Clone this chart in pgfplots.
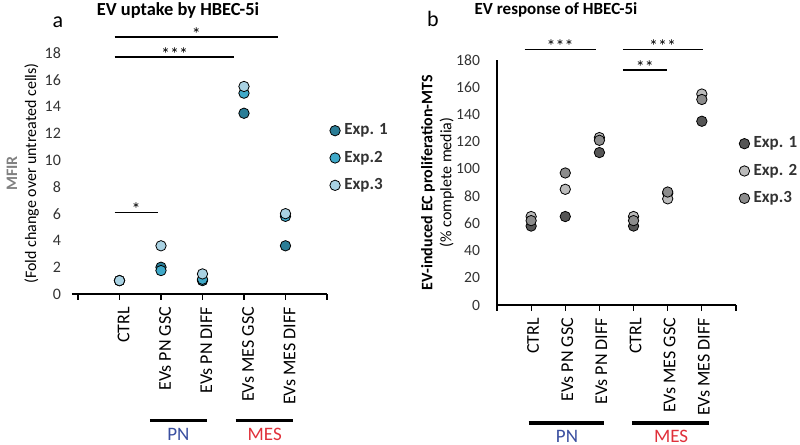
\documentclass[border=0pt]{standalone}
\usepackage{pgfplots}
\pgfplotsset{compat=1.18}
\usepackage{fontspec}
\setmainfont{Carlito}

\definecolor{aone}{HTML}{2B7D96}
\definecolor{atwo}{HTML}{3FA9C9}
\definecolor{athree}{HTML}{A9D2E3}
\definecolor{bone}{HTML}{555555}
\definecolor{btwo}{HTML}{BBBBBB}
\definecolor{bthree}{HTML}{8C8C8C}
\definecolor{txt}{HTML}{333333}
\definecolor{pnblue}{HTML}{3A4FA0}
\definecolor{mesred}{HTML}{E0303A}

\tikzset{stars/.style={anchor=base, inner sep=0pt, yshift=-1.6pt, font=\fontsize{9}{9}\selectfont}}

\pgfplotsset{
  panel/.style={
    scale only axis, anchor=south west,
    axis x line=bottom, axis y line=left,
    axis line style={-, black, line width=0.6pt},
    tick align=outside, major tick length=3pt,
    x tick style={black, line width=0.6pt},
    y tick style={draw=none},
    /pgf/number format/assume math mode=true,
    yticklabel style={font=\fontsize{8}{9}\selectfont, text=txt},
    xticklabel style={rotate=90, anchor=east, font=\fontsize{9}{10}\selectfont, text=black},
    clip=false,
    legend cell align=left,
    legend image code/.code={\draw[#1] plot coordinates {(2pt,0pt)};},
    every axis y label/.style={rotate=90, anchor=south, align=center, font=\fontsize{8}{9.5}\selectfont},
  },
  dots/.style={only marks, mark=*, mark size=2.6pt, draw=none, fill=#1, mark options={draw=none, fill=#1}},
}

\begin{document}
\begin{tikzpicture}
\useasboundingbox (0pt,0pt) rectangle (400pt,222.5pt);

% panel a
\begin{axis}[panel, at={(39pt,75.5pt)}, width=124.5pt, height=120.5pt,
  xmin=0, xmax=6, ymin=0, ymax=18,
  y axis line style={draw=none},
  ytick={0,2,...,18},
  xtick={0,...,6},
  xticklabels={{},CTRL,EVs PN GSC,EVs PN DIFF,EVs MES GSC,EVs MES DIFF,{}},
  yticklabel style={xshift=-2pt},
  xticklabel style={yshift=-2pt},
  ylabel={\textcolor{gray}{\bfseries MFIR}\\(Fold change over untreated cells)},
  ylabel style={at={([xshift=-16pt]axis description cs:0,0.5)}},
  legend style={at={(1.01,0.725)}, anchor=north west, draw=none, fill=none,
    font=\bfseries\fontsize{8.5}{10}\selectfont, text=txt, row sep=2.6pt, inner sep=0pt},
]
\addplot[dots=aone] coordinates {(1,1) (2,2.0) (3,1.0) (4,13.5) (5,3.6)};
\addplot[dots=atwo] coordinates {(1,1) (2,1.75) (3,1.1) (4,15.0) (5,5.8)};
\addplot[dots=athree] coordinates {(1,1) (2,3.6) (3,1.5) (4,15.5) (5,6.0)};
\legend{Exp. 1,Exp.2,Exp.3}
% significance
\draw[line width=0.6pt] (axis cs:0.88,19.2) -- (axis cs:4.83,19.2);
\node[stars] at (axis cs:2.85,19.2) {*};
\draw[line width=0.6pt] (axis cs:0.88,17.7) -- (axis cs:3.77,17.7);
\node[stars] at (axis cs:2.33,17.7) {***};
\draw[line width=0.6pt] (axis cs:0.88,6.1) -- (axis cs:1.92,6.1);
\node[stars] at (axis cs:1.4,6.1) {*};
\draw[line width=0.6pt] (axis cs:-0.15,0) -- (axis cs:0,0);
% groups
\draw[line width=1.6pt] (axis cs:1.73,-9.45) -- (axis cs:3.1,-9.45);
\draw[line width=1.6pt] (axis cs:3.8,-9.45) -- (axis cs:5.18,-9.45);
\node[font=\fontsize{9.5}{10}\selectfont, text=pnblue] at (axis cs:2.42,-10.5) {PN};
\node[font=\fontsize{9.5}{10}\selectfont, text=mesred] at (axis cs:4.5,-10.5) {MES};
\end{axis}

% panel b
\begin{axis}[panel, at={(248.5pt,70pt)}, width=119.5pt, height=122.5pt,
  xmin=0, xmax=7, ymin=0, ymax=180,
  ytick={0,20,...,180},
  xtick={0,...,7},
  xticklabels={{},CTRL,EVs PN GSC,EVs PN DIFF,CTRL,EVs MES GSC,EVs MES DIFF,{}},
  yticklabel style={xshift=-2pt, font=\fontsize{7.8}{9}\selectfont},
  xticklabel style={yshift=-1pt},
  ylabel={\bfseries EV-induced EC proliferation-MTS\\(\% complete media)},
  ylabel style={at={([xshift=-18pt]axis description cs:0,0.5)}},
  legend style={at={(1.012,0.705)}, anchor=north west, draw=none, fill=none,
    font=\bfseries\fontsize{8.5}{10}\selectfont, text=txt, row sep=2.6pt, inner sep=0pt},
]
\addplot[dots=bone] coordinates {(1,58) (2,65) (3,112) (4,58) (5,82) (6,135)};
\addplot[dots=btwo] coordinates {(1,65) (2,85) (3,123) (4,65) (5,78) (6,155)};
\addplot[dots=bthree] coordinates {(1,62) (2,97) (3,121) (4,62) (5,83) (6,151)};
\legend{Exp. 1,Exp. 2,Exp.3}
\draw[line width=0.6pt] (axis cs:0.81,188) -- (axis cs:2.9,188);
\node[stars] at (axis cs:1.85,188) {***};
\draw[line width=0.6pt] (axis cs:3.69,188) -- (axis cs:6.02,188);
\node[stars] at (axis cs:4.85,188) {***};
\draw[line width=0.6pt] (axis cs:3.69,172.7) -- (axis cs:4.97,172.7);
\node[stars] at (axis cs:4.33,172.7) {**};
\draw[line width=1.6pt] (axis cs:0.93,-86.7) -- (axis cs:3.13,-86.7);
\draw[line width=1.6pt] (axis cs:3.95,-86.7) -- (axis cs:6.2,-86.7);
\node[font=\fontsize{9.5}{10}\selectfont, text=pnblue] at (axis cs:2.05,-96.5) {PN};
\node[font=\fontsize{9.5}{10}\selectfont, text=mesred] at (axis cs:5.1,-96.5) {MES};
\end{axis}

\node[font=\bfseries\fontsize{9.2}{10}\selectfont] at (89pt,217.5pt) {EV uptake by HBEC-5i};
\node[font=\fontsize{11}{12}\selectfont] at (29pt,211.5pt) {a};
\node[font=\bfseries\fontsize{8.5}{10}\selectfont] at (278pt,217.5pt) {EV response of HBEC-5i};
\node[font=\fontsize{11}{12}\selectfont] at (216.5pt,213pt) {b};
\end{tikzpicture}
\end{document}
